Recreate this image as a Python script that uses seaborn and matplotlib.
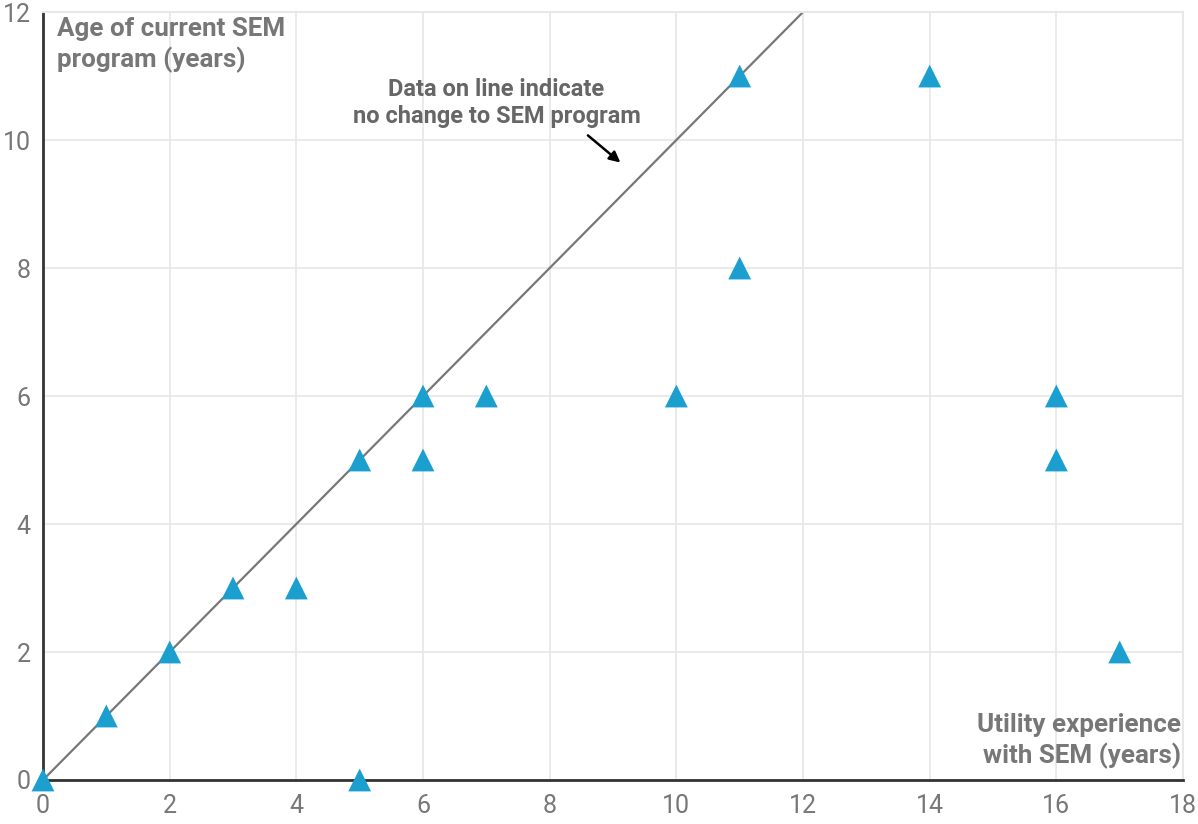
import matplotlib
matplotlib.use("Agg")
import matplotlib.pyplot as plt
import pandas as pd
import seaborn as sns

# utility experience with SEM vs age of current SEM program
experience = [0, 1, 2, 3, 4, 5, 5, 6, 6, 7, 10, 11, 11, 14, 16, 16, 17]
program_age = [0, 1, 2, 3, 3, 5, 0, 6, 5, 6, 6, 11, 8, 11, 6, 5, 2]
x_ticks = [0, 2, 4, 6, 8, 10, 12, 14, 16, 18]
y_ticks = [0, 2, 4, 6, 8, 10, 12]

df = pd.DataFrame({"experience": experience, "age": program_age})

sns.set_style("white")
plt.rcParams["font.family"] = ["Roboto", "DejaVu Sans"]

fig = plt.figure(figsize=(11.98, 8.24), dpi=100)
ax = fig.add_axes([0.0359, 0.0534, 0.9516, 0.932])

# reference line: no change to program
sns.lineplot(x=[0, 12], y=[0, 12], ax=ax, color="#777777", linewidth=1.6, zorder=2)

sns.scatterplot(data=df, x="experience", y="age", ax=ax, marker="^", s=270,
                color="#1a9fcf", edgecolor="none", zorder=4, clip_on=False)

ax.set_xlim(0, 18)
ax.set_ylim(0, 12)
ax.set_xticks(x_ticks)
ax.set_yticks(y_ticks)
ax.tick_params(axis="both", labelsize=18, labelcolor="#777777", length=0)
ax.tick_params(axis="x", pad=10)
ax.tick_params(axis="y", pad=9)
ax.grid(True, color="#e8e8e8", linewidth=1.3, zorder=0)
ax.set_axisbelow(True)
ax.set_xlabel("")
ax.set_ylabel("")

for side in ["top", "right"]:
    ax.spines[side].set_color("#e8e8e8")
    ax.spines[side].set_linewidth(1.5)
for side in ["left", "bottom"]:
    ax.spines[side].set_color("#333333")
    ax.spines[side].set_linewidth(2)

ax.text(0.22, 11.93, "Age of current SEM\nprogram (years)", ha="left", va="top",
        fontsize=18.7, fontweight="bold", color="#777777", linespacing=1.3)
ax.text(17.97, 0.17, "Utility experience\nwith SEM (years)", ha="right", va="bottom",
        fontsize=18.7, fontweight="bold", color="#777777", linespacing=1.3)

ax.text(7.16, 10.58, "Data on line indicate\nno change to SEM program", ha="center",
        va="center", fontsize=17, fontweight="bold", color="#666666", linespacing=1.25)
ax.annotate("", xy=(9.15, 9.62), xytext=(8.57, 10.1),
            arrowprops=dict(arrowstyle="-|>", color="black", lw=1.8, mutation_scale=16))

fig.savefig("out.png", dpi=100)
